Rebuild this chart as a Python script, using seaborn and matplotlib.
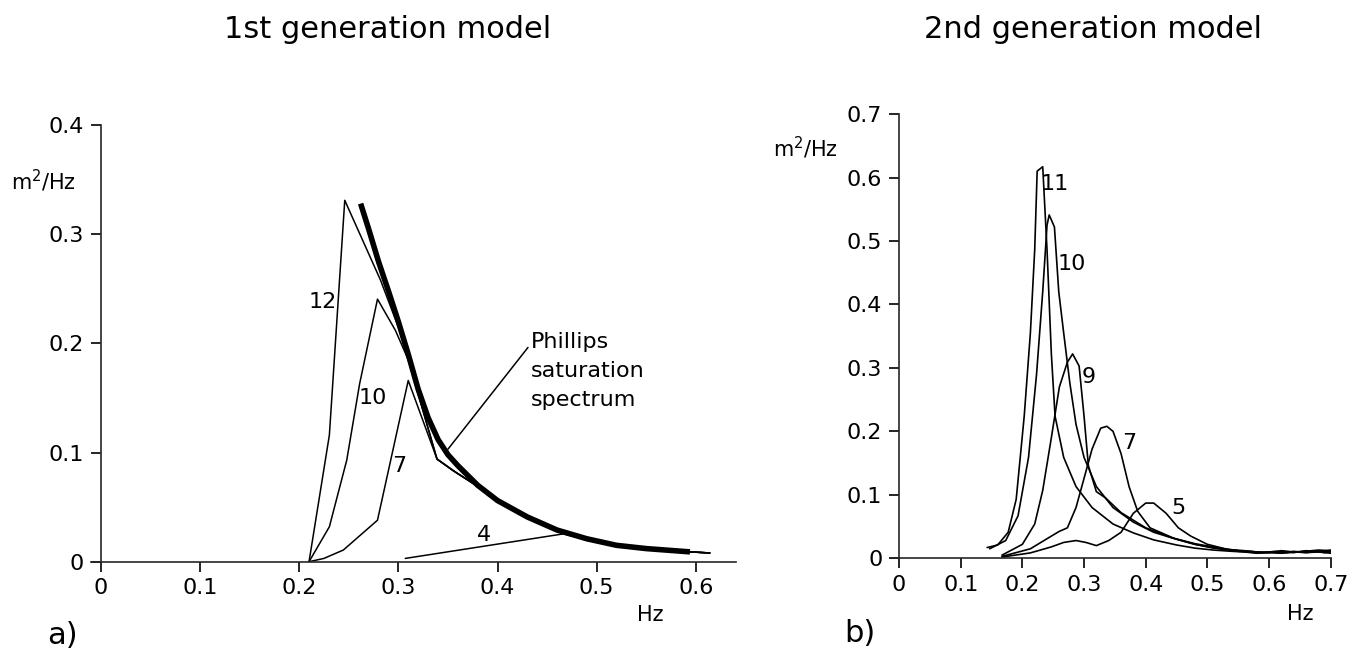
import numpy as np
import pandas as pd
import seaborn as sns
import matplotlib.pyplot as plt

# ---- panel a: 1st generation model ----
phillips_x = [0.262, 0.27, 0.28, 0.29, 0.30, 0.31, 0.32, 0.33, 0.34, 0.35, 0.36, 0.38,
              0.40, 0.43, 0.46, 0.49, 0.52, 0.55, 0.594]
phillips_y = [0.328, 0.305, 0.275, 0.248, 0.220, 0.190, 0.158, 0.132, 0.112, 0.098, 0.088,
              0.070, 0.056, 0.041, 0.029, 0.021, 0.015, 0.012, 0.009]

tail_x = [0.38, 0.40, 0.43, 0.46, 0.49, 0.52, 0.55, 0.594, 0.614]
tail_y = [0.069, 0.055, 0.040, 0.028, 0.020, 0.015, 0.012, 0.009, 0.008]

a12_x = [0.21, 0.2305, 0.246, 0.282, 0.30, 0.31, 0.339, 0.356]
a12_y = [0.0, 0.116, 0.331, 0.258, 0.215, 0.185, 0.094, 0.083]
a10_x = [0.21, 0.2305, 0.248, 0.261, 0.279, 0.297, 0.31, 0.339, 0.356]
a10_y = [0.0, 0.032, 0.093, 0.163, 0.2405, 0.212, 0.185, 0.094, 0.083]
a7_x = [0.21, 0.225, 0.2446, 0.279, 0.31, 0.339, 0.356]
a7_y = [0.0, 0.003, 0.0107, 0.038, 0.166, 0.094, 0.083]
a4_x = [0.307, 0.4665, 0.49]
a4_y = [0.003, 0.0255, 0.020]

# ---- panel b: 2nd generation model ----
b11_x = [0.143, 0.16, 0.177, 0.19, 0.203, 0.213, 0.22, 0.224, 0.233, 0.24, 0.247, 0.253,
         0.267, 0.287, 0.313, 0.347, 0.38, 0.413, 0.45, 0.48, 0.51, 0.54, 0.56, 0.58,
         0.60, 0.62, 0.64, 0.66, 0.68, 0.70]
b11_y = [0.017, 0.021, 0.041, 0.093, 0.224, 0.355, 0.486, 0.61, 0.617, 0.486, 0.322, 0.224,
         0.159, 0.113, 0.080, 0.054, 0.040, 0.029, 0.021, 0.016, 0.013, 0.011, 0.010, 0.008,
         0.009, 0.008, 0.010, 0.009, 0.011, 0.010]
b10_x = [0.147, 0.173, 0.193, 0.21, 0.223, 0.233, 0.24, 0.2435, 0.252, 0.259, 0.267, 0.277,
         0.287, 0.30, 0.32, 0.347, 0.38, 0.413, 0.45, 0.48, 0.51, 0.547, 0.57, 0.59,
         0.61, 0.63, 0.65, 0.67, 0.69, 0.70]
b10_y = [0.015, 0.028, 0.067, 0.159, 0.29, 0.42, 0.525, 0.541, 0.522, 0.42, 0.355, 0.276,
         0.211, 0.159, 0.113, 0.080, 0.057, 0.041, 0.030, 0.022, 0.016, 0.012, 0.011, 0.009,
         0.011, 0.009, 0.010, 0.012, 0.009, 0.011]
b9_x = [0.167, 0.20, 0.22, 0.233, 0.247, 0.26, 0.273, 0.2815, 0.292, 0.30, 0.307, 0.32,
        0.335, 0.36, 0.40, 0.44, 0.48, 0.52, 0.55, 0.57, 0.60, 0.62, 0.64, 0.66, 0.68, 0.70]
b9_y = [0.005, 0.022, 0.054, 0.107, 0.19, 0.27, 0.309, 0.322, 0.303, 0.224, 0.146, 0.105,
        0.095, 0.072, 0.048, 0.033, 0.023, 0.016, 0.012, 0.010, 0.009, 0.012, 0.010, 0.011,
        0.013, 0.012]
b7_x = [0.167, 0.213, 0.247, 0.26, 0.273, 0.287, 0.30, 0.313, 0.327, 0.337, 0.347, 0.36,
        0.373, 0.387, 0.407, 0.447, 0.48, 0.52, 0.55, 0.58, 0.60, 0.62, 0.64, 0.66, 0.68, 0.70]
b7_y = [0.003, 0.015, 0.035, 0.0425, 0.048, 0.080, 0.126, 0.172, 0.205, 0.208, 0.200, 0.165,
        0.113, 0.074, 0.048, 0.031, 0.022, 0.015, 0.011, 0.009, 0.010, 0.008, 0.011, 0.009,
        0.010, 0.008]
b5_x = [0.167, 0.213, 0.247, 0.267, 0.287, 0.303, 0.32, 0.34, 0.36, 0.38, 0.40, 0.413,
        0.433, 0.453, 0.473, 0.50, 0.533, 0.56, 0.58, 0.60, 0.62, 0.64, 0.66, 0.68, 0.70]
b5_y = [0.002, 0.0085, 0.018, 0.025, 0.028, 0.025, 0.020, 0.028, 0.041, 0.071, 0.087, 0.087,
        0.071, 0.048, 0.035, 0.022, 0.014, 0.012, 0.010, 0.009, 0.011, 0.009, 0.012, 0.010, 0.013]

labels_a = ["12", "10", "7", "4"]
labels_a_pos = [(0.2235, 0.238), (0.274, 0.150), (0.301, 0.088), (0.386, 0.024)]
labels_b = ["11", "10", "9", "7", "5"]
labels_b_pos = [(0.253, 0.590), (0.280, 0.463), (0.307, 0.286), (0.373, 0.182), (0.453, 0.079)]


def frame(xs, ys, name):
    return pd.DataFrame({"f": xs, "E": ys, "run": name})


sns.set_theme(style="ticks")
plt.rcParams["font.family"] = ["DejaVu Sans"]
plt.rcParams["axes.linewidth"] = 1.2
plt.rcParams["text.color"] = "black"
plt.rcParams["axes.labelcolor"] = "black"

fig = plt.figure(figsize=(13.51, 6.52), dpi=100)
ax1 = fig.add_axes([0.0672, 0.1385, 0.4773, 0.6698])
ax2 = fig.add_axes([0.6586, 0.1437, 0.3264, 0.6814])

# panel a
thin_a = pd.concat([
    frame(a12_x + tail_x, a12_y + tail_y, "12"),
    frame(a10_x + tail_x, a10_y + tail_y, "10"),
    frame(a7_x + tail_x, a7_y + tail_y, "7"),
    frame(a4_x + tail_x[4:], a4_y + tail_y[4:], "4"),
])
sns.lineplot(data=thin_a, x="f", y="E", units="run", estimator=None, sort=False,
             color="black", lw=1.1, ax=ax1)
sns.lineplot(x=phillips_x, y=phillips_y, color="black", lw=4.0, sort=False,
             solid_capstyle="butt", ax=ax1)

# panel b
thin_b = pd.concat([
    frame(b11_x, b11_y, "11"),
    frame(b10_x, b10_y, "10"),
    frame(b9_x, b9_y, "9"),
    frame(b7_x, b7_y, "7"),
    frame(b5_x, b5_y, "5"),
])
sns.lineplot(data=thin_b, x="f", y="E", units="run", estimator=None, sort=False,
             color="black", lw=1.2, ax=ax2)

for ax, xlim, ylim, xt, yt in [
    (ax1, (-0.01, 0.64), (0, 0.4), np.arange(0, 0.61, 0.1), np.arange(0, 0.41, 0.1)),
    (ax2, (-0.015, 0.70), (0, 0.7), np.arange(0, 0.71, 0.1), np.arange(0, 0.71, 0.1)),
]:
    ax.set_xlim(*xlim)
    ax.set_ylim(*ylim)
    ax.set_xticks(xt)
    ax.set_yticks(yt)
    ax.set_xticklabels(["0"] + [f"{v:.1f}" for v in xt[1:]])
    ax.set_yticklabels(["0"] + [f"{v:.1f}" for v in yt[1:]])
    ax.spines["left"].set_position(("data", 0))
    ax.spines["top"].set_visible(False)
    ax.spines["right"].set_visible(False)
    ax.tick_params(direction="out", length=7, width=1.2, labelsize=16, colors="black", pad=5)
    ax.set_xlabel("")
    ax.set_ylabel("")
    ax.set_facecolor("white")

for t, (x, y) in zip(labels_a, labels_a_pos):
    ax1.text(x, y, t, fontsize=16, ha="center", va="center")
for t, (x, y) in zip(labels_b, labels_b_pos):
    ax2.text(x, y, t, fontsize=16, ha="center", va="center")

ax1.annotate("Phillips\nsaturation\nspectrum", xy=(0.350, 0.103), xytext=(0.434, 0.21),
             fontsize=16, ha="left", va="top", linespacing=1.55,
             arrowprops=dict(arrowstyle="-", color="black", lw=1.1, relpos=(0, 0.86),
                             shrinkA=0, shrinkB=0))

fig.text(388 / 1351, 1 - 30 / 652, "1st generation model", fontsize=22, ha="center", va="center")
fig.text(1093 / 1351, 1 - 30 / 652, "2nd generation model", fontsize=22, ha="center", va="center")
fig.text(43 / 1351, 1 - 181 / 652, "m$^2$/Hz", fontsize=15, ha="center", va="center")
fig.text(805 / 1351, 1 - 148 / 652, "m$^2$/Hz", fontsize=15, ha="center", va="center")
fig.text(650 / 1351, 1 - 615 / 652, "Hz", fontsize=15, ha="center", va="center")
fig.text(1300 / 1351, 1 - 614 / 652, "Hz", fontsize=15, ha="center", va="center")
fig.text(62 / 1351, 1 - 636 / 652, "a)", fontsize=22, ha="center", va="center")
fig.text(860 / 1351, 1 - 634 / 652, "b)", fontsize=22, ha="center", va="center")

fig.savefig("out.png", dpi=100, facecolor="white")
